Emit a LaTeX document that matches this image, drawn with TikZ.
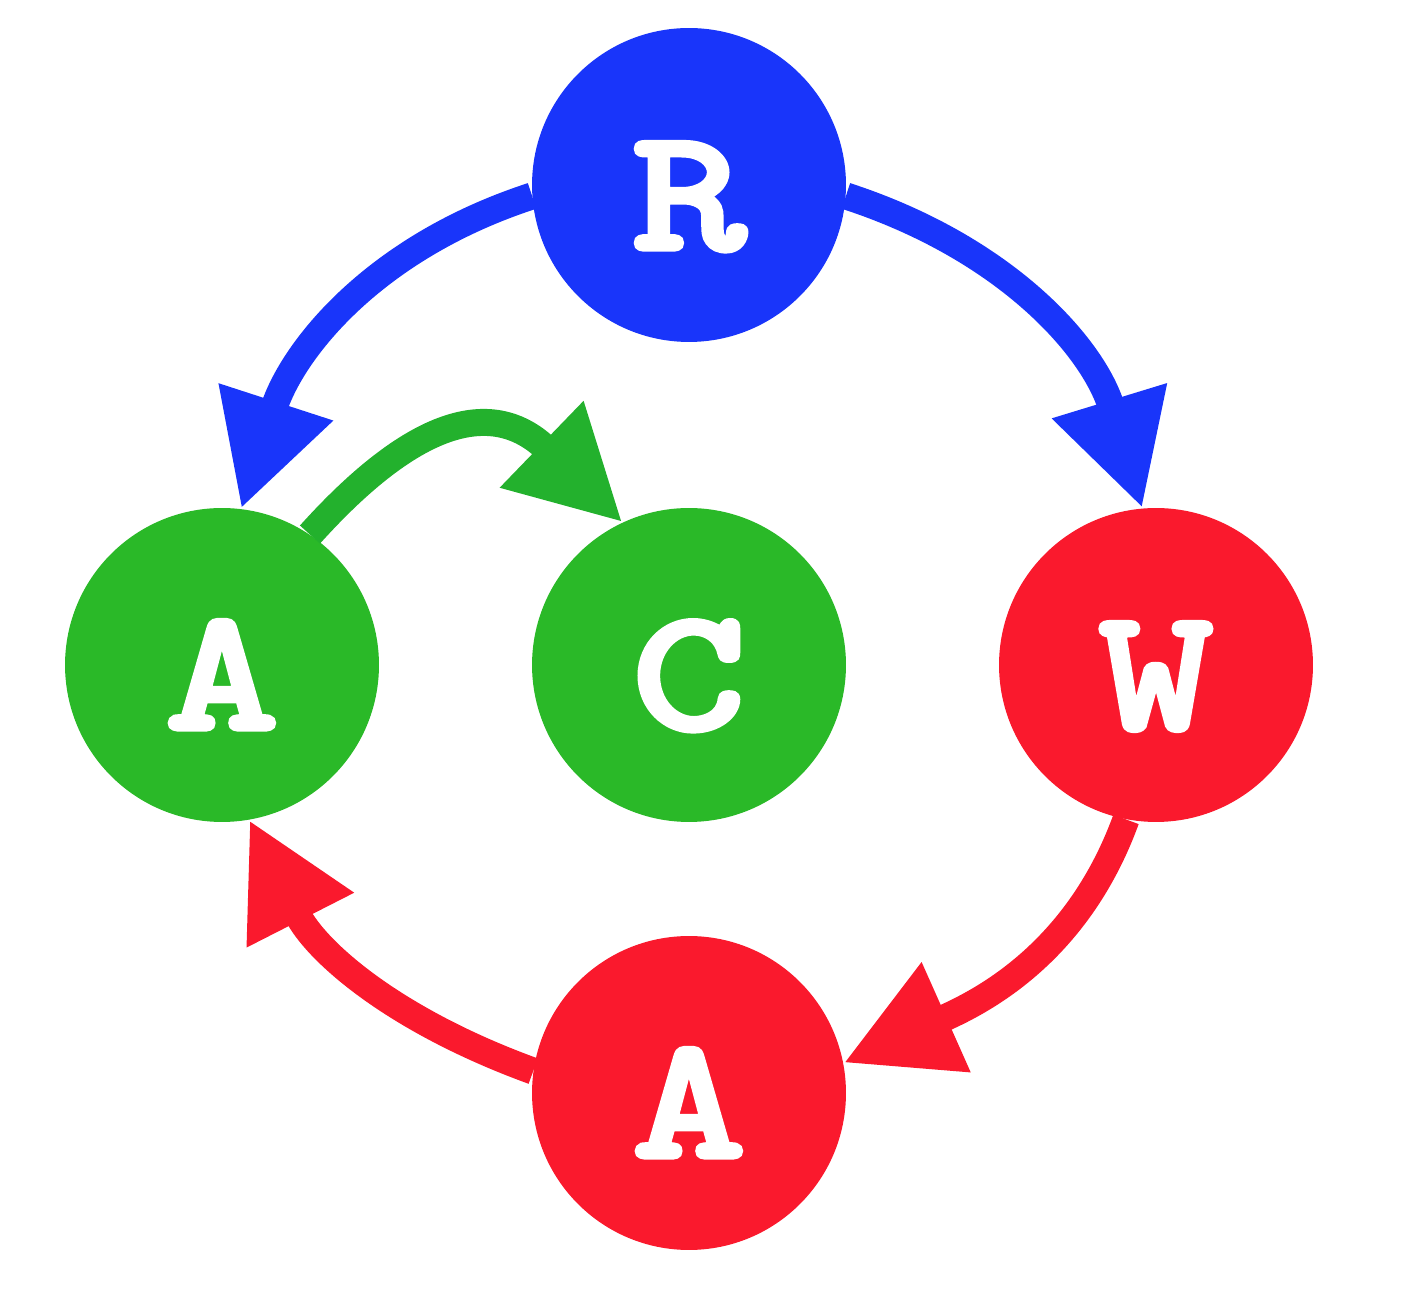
\documentclass[tikz,border=0pt]{standalone}
\usepackage{fontspec}
\newfontfamily\statefont{lmmonolt10-bold.otf}[FakeStretch=1.25,FakeBold=2.5]
\usetikzlibrary{arrows.meta}
\definecolor{cblue}{RGB}{25,53,250}
\definecolor{cgreen}{RGB}{42,185,40}
\definecolor{cgreenarr}{RGB}{35,177,45}
\definecolor{cred}{RGB}{250,25,45}
\begin{document}
\begin{tikzpicture}[x=0.02cm,y=0.02cm,
  state/.style={circle, minimum size=6.28cm, inner sep=0pt, text=white,
    font=\fontsize{100}{100}\selectfont\statefont,
    text height=2.58cm, text depth=0cm},
  conn/.style={line width=0.54cm, -{Triangle[length=2.25cm,width=2.25cm]}}]
\useasboundingbox (0,0) rectangle (1416,1308);
\node[state, fill=cblue]  (R)  at (689,1123) {R};
\node[state, fill=cgreen] (A1) at (222,643)  {A};
\node[state, fill=cgreen] (C)  at (689,643)  {C};
\node[state, fill=cred]   (W)  at (1156,643) {W};
\node[state, fill=cred]   (A2) at (689,215)  {A};
\draw[conn, cblue] (R.184) to[out=198, in=72] (A1.83);
\draw[conn, cblue] (R.356) to[out=-18, in=107] (W.95);
\draw[conn, cgreenarr] (A1.56) to[out=48, in=136, looseness=1.4] (C.115);
\draw[conn, cred] (W.259) to[out=250, in=24] (A2.11);
\draw[conn, cred] (A2.172) to[out=160, in=297] (A1.280);
\end{tikzpicture}
\end{document}
